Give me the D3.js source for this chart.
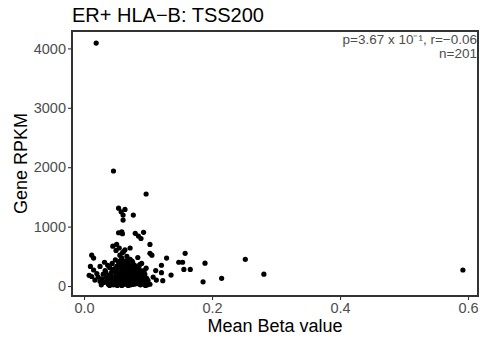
<!DOCTYPE html>
<html><head><meta charset="utf-8">
<script src="https://cdn.jsdelivr.net/npm/d3@7"></script>
<style>body{margin:0;background:#fff}svg{display:block}text{font-family:"Liberation Sans",Arial,sans-serif}</style>
</head><body><div id="chart"></div>
<script>
const title = "ER+ HLA\u2212B: TSS200";
const xLabel = "Mean Beta value";
const yLabel = "Gene RPKM";
const xTicks = [0.0, 0.2, 0.4, 0.6];
const yTicks = [0, 1000, 2000, 3000, 4000];
const statLine1 = "p=3.67 x 10\u207B\u00B9, r=\u22120.06";
const statLine2 = "n=201";

const betaValues = [
0.019,0.046,0.097,0.054,0.058,0.061,0.061,0.064,0.077,0.054,0.059,0.060,0.080,0.085,0.089,0.093,
0.103,0.045,0.051,0.072,0.103,0.106,0.129,0.158,0.148,0.154,0.156,0.166,0.189,0.186,0.215,0.252,0.281,0.592,
0.121,0.121,0.123,0.136,0.012,0.015,0.010,0.015,0.012,0.017,0.008,0.103,0.113,
0.020,0.022,0.025,0.028,0.030,0.031,0.033,0.035,0.036,0.038,0.039,0.040,0.041,0.042,0.043,0.044,0.045,0.046,0.047,0.048,
0.049,0.050,0.050,0.051,0.052,0.052,0.053,0.054,0.054,0.055,0.055,0.056,0.056,0.057,0.057,0.058,0.058,0.059,0.059,0.060,
0.060,0.061,0.061,0.062,0.062,0.063,0.063,0.064,0.064,0.065,0.065,0.066,0.066,0.067,0.067,0.068,0.068,0.069,0.069,0.070,
0.070,0.071,0.071,0.072,0.072,0.073,0.073,0.074,0.074,0.075,0.075,0.076,0.076,0.077,0.077,0.078,0.078,0.079,0.079,0.080,
0.080,0.081,0.082,0.082,0.083,0.084,0.084,0.085,0.086,0.086,0.087,0.088,0.088,0.089,0.090,0.090,0.091,0.092,0.093,0.094,
0.095,0.096,0.097,0.098,0.099,0.100,
0.025,0.027,0.032,0.034,0.037,0.040,0.043,0.045,0.047,0.049,0.050,0.051,0.053,0.055,0.056,0.057,0.058,0.059,0.060,0.061,
0.062,0.063,0.064,0.065,0.066,0.067,0.068,0.069,0.070,0.071,0.072,0.073,0.074,0.075,0.076,0.077,0.078,0.079,0.081,0.083,
0.085,0.087,0.089,0.091,0.094,0.096,0.108,0.112
];
const rpkmValues = [
4090,1936,1549,1310,1250,1195,1110,1290,1195,897,914,880,887,840,800,904,
700,670,700,640,550,520,470,550,400,400,280,280,385,70,130,450,200,270,
350,225,90,185,520,470,330,270,160,100,180,30,100,
210,150,80,120,200,60,260,140,90,30,180,310,120,60,230,380,150,20,290,100,
440,200,60,330,150,10,260,90,400,180,40,520,300,120,220,60,360,160,470,250,
20,100,320,190,580,80,280,140,420,230,30,350,110,200,500,70,270,160,390,40,
240,130,300,80,450,190,20,340,110,250,60,170,400,90,280,30,210,140,350,70,
260,180,40,320,120,230,480,60,170,290,100,20,210,140,380,70,250,160,30,110,
200,60,300,130,20,90,
330,20,400,230,350,10,160,260,50,130,600,250,170,640,90,430,290,10,560,210,
50,370,610,150,260,80,430,10,330,200,50,260,160,420,30,190,310,100,50,280,
150,360,50,120,260,10,150,260
];

const W = 481, H = 341;
const m = {left: 72, right: 3, top: 31, bottom: 45};
const svg = d3.select("#chart").append("svg").attr("width", W).attr("height", H);
const pw = W - m.left - m.right, ph = H - m.top - m.bottom;

const x = d3.scaleLinear().domain([-0.0188, 0.6156]).range([m.left, m.left + pw]);
const y = d3.scaleLinear().domain([-168, 4293]).range([m.top + ph, m.top]);

const data = betaValues.map((b, i) => ({b, r: rpkmValues[i]}));

svg.append("g").selectAll("circle").data(data).join("circle")
  .attr("cx", d => x(d.b)).attr("cy", d => y(d.r)).attr("r", 2.6).attr("fill", "#000");

svg.append("rect").attr("x", m.left).attr("y", m.top).attr("width", pw).attr("height", ph)
  .attr("fill", "none").attr("stroke", "#333333").attr("stroke-width", 2);

const xAxis = svg.append("g").attr("transform", `translate(0,${m.top + ph})`)
  .call(d3.axisBottom(x).tickValues(xTicks).tickFormat(d3.format(".1f")).tickSize(4).tickPadding(3));
const yAxis = svg.append("g").attr("transform", `translate(${m.left},0)`)
  .call(d3.axisLeft(y).tickValues(yTicks).tickFormat(d3.format("d")).tickSize(4).tickPadding(2));
[xAxis, yAxis].forEach(a => {
  a.select(".domain").remove();
  a.selectAll("line").attr("stroke", "#333333").attr("stroke-width", 1.1);
  a.selectAll("text").attr("fill", "#4d4d4d").style("font-size", "14.5px")
   .style("font-family", '"Liberation Sans", Arial, sans-serif');
});

svg.append("text").attr("x", m.left).attr("y", 22).text(title)
  .style("font-size", "20px").attr("fill", "#000");
svg.append("text").attr("x", m.left + pw / 2).attr("y", 332).attr("text-anchor", "middle")
  .text(xLabel).style("font-size", "18px").attr("fill", "#000");
svg.append("text").attr("transform", `translate(27,${m.top + ph / 2}) rotate(-90)`)
  .attr("text-anchor", "middle").text(yLabel).style("font-size", "18px").attr("fill", "#000");

svg.append("text").attr("x", 477).attr("y", 44).attr("text-anchor", "end")
  .text(statLine1).style("font-size", "13.5px").attr("fill", "#4d4d4d");
svg.append("text").attr("x", 477).attr("y", 58).attr("text-anchor", "end")
  .text(statLine2).style("font-size", "13.5px").attr("fill", "#4d4d4d");
</script></body></html>
